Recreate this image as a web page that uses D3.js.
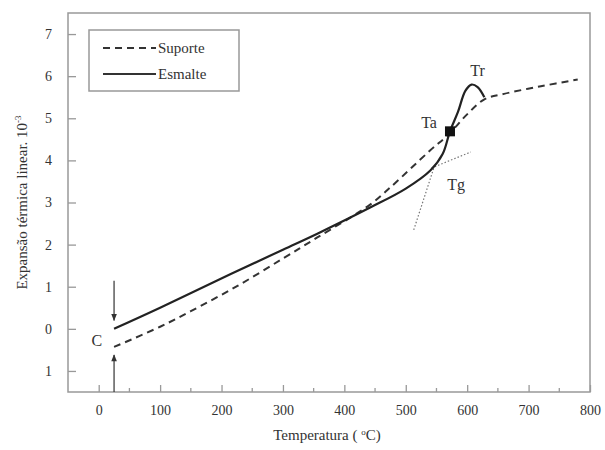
<!DOCTYPE html>
<html lang="pt">
<head>
<meta charset="UTF-8">
<script src="https://d3js.org/d3.v7.min.js"></script>
<style>
  body { margin: 0; background: #fff; }
  svg { font-family: "Liberation Serif", "DejaVu Serif", serif; }
</style>
</head>
<body>
<svg width="605" height="450"></svg>
<script>
// data (temperature in °C, expansion in 10^-3)
var suporte = [[25,-0.43],[100,0.05],[150,0.42],[226,1.02],[300,1.67],[356,2.17],[442,2.95],[475,3.36],
               [540,4.24],[570,4.62],[599,5.08],[628,5.45],[660,5.58],[720,5.76],[780,5.92]];
var esmalte = [[25,0.0],[100,0.5],[215,1.3],[300,1.88],[356,2.26],[442,2.88],[500,3.33],[540,3.76],
               [560,4.15],[572,4.69],[585,5.15],[597,5.65],[607,5.8],[617,5.74],[628,5.5]];
var tangentSteep = [[513,2.35],[547,3.88]];
var tangentFlat = [[542,3.82],[606,4.2]];
var taPoint = [572, 4.69];
var xTicks = [0,100,200,300,400,500,600,700,800];
var xMinor = [50,150,250,350,450,550,650,750];
var yTicks = [-1,0,1,2,3,4,5,6,7];
var yTickLabels = ["1","0","1","2","3","4","5","6","7"];
var labels = [{t:"Tr", x:617, y:6.0}, {t:"Ta", x:538, y:4.78}, {t:"Tg", x:582, y:3.29}, {t:"C", x:-3, y:-0.4}];

var svg = d3.select("svg"),
    padL = 68, padR = 590, padT = 13, padB = 392,
    ink = "#333", frame = "#999";

var x = d3.scaleLinear().domain([-50, 800]).range([padL, padR]);
var y = d3.scaleLinear().domain([-1.5, 7.5]).range([padB, padT]);

// frame
svg.append("rect")
    .attr("x", padL).attr("y", padT)
    .attr("width", padR - padL).attr("height", padB - padT)
    .attr("fill", "none").attr("stroke", frame).attr("stroke-width", 1.5);

// x axis ticks (inward)
var xAxis = d3.axisBottom(x).tickValues(xTicks).tickSizeInner(-7).tickSizeOuter(0).tickPadding(13);
var gx = svg.append("g").attr("transform", "translate(0," + padB + ")").call(xAxis);
gx.select(".domain").remove();
gx.selectAll("line").attr("stroke", frame).attr("stroke-width", 1.3);
gx.selectAll("text").attr("fill", ink).attr("font-size", 14);
svg.append("g").selectAll("line").data(xMinor).enter().append("line")
    .attr("x1", x).attr("x2", x).attr("y1", padB).attr("y2", padB - 4)
    .attr("stroke", frame).attr("stroke-width", 1.3);

// y axis ticks (inward)
var yAxis = d3.axisLeft(y).tickValues(yTicks).tickSizeInner(-8).tickSizeOuter(0).tickPadding(16)
    .tickFormat(function(d, i) { return yTickLabels[i]; });
var gy = svg.append("g").attr("transform", "translate(" + padL + ",0)").call(yAxis);
gy.select(".domain").remove();
gy.selectAll("line").attr("stroke", frame).attr("stroke-width", 1.3);
gy.selectAll("text").attr("fill", ink).attr("font-size", 14);
gx.attr("font-family", null);
gy.attr("font-family", null);

// axis titles
svg.append("text")
    .attr("x", 327).attr("y", 440)
    .attr("text-anchor", "middle").attr("fill", ink).attr("font-size", 15)
    .html('Temperatura ( <tspan dy="-5" font-size="9">o</tspan><tspan dy="5">C)</tspan>');
svg.append("text")
    .attr("transform", "translate(27," + (padT + padB) / 2 + ")rotate(-90)")
    .attr("text-anchor", "middle").attr("fill", ink).attr("font-size", 15)
    .html('Expansão térmica linear. 10<tspan dy="-6" font-size="9">-3</tspan>');

var line = d3.line().x(function(d) { return x(d[0]); }).y(function(d) { return y(d[1]); });
var smooth = d3.line().curve(d3.curveCatmullRom.alpha(0.5))
    .x(function(d) { return x(d[0]); }).y(function(d) { return y(d[1]); });

// tangent lines (dotted)
[tangentSteep, tangentFlat].forEach(function(t) {
    svg.append("path").attr("d", line(t))
        .attr("fill", "none").attr("stroke", "#777").attr("stroke-width", 1.2)
        .attr("stroke-dasharray", "1.5,2");
});

// curves
svg.append("path").attr("d", smooth(suporte))
    .attr("fill", "none").attr("stroke", ink).attr("stroke-width", 2)
    .attr("stroke-dasharray", "7,5");
svg.append("path").attr("d", smooth(esmalte))
    .attr("fill", "none").attr("stroke", "#222").attr("stroke-width", 2.2);

// Ta marker
svg.append("rect")
    .attr("x", x(taPoint[0]) - 5).attr("y", y(taPoint[1]) - 5)
    .attr("width", 10).attr("height", 10).attr("fill", "#111");

// arrows at start point
var defs = svg.append("defs");
defs.append("marker").attr("id", "ah").attr("viewBox", "0 0 10 10")
    .attr("refX", 9).attr("refY", 5).attr("markerWidth", 9).attr("markerHeight", 7)
    .attr("orient", "auto").attr("markerUnits", "userSpaceOnUse")
    .append("path").attr("d", "M0,1 L10,5 L0,9 Z").attr("fill", ink);
svg.append("line")
    .attr("x1", x(25)).attr("x2", x(25)).attr("y1", y(1.14)).attr("y2", y(0.2))
    .attr("stroke", ink).attr("stroke-width", 1.2).attr("marker-end", "url(#ah)");
svg.append("line")
    .attr("x1", x(25)).attr("x2", x(25)).attr("y1", y(-1.5)).attr("y2", y(-0.62))
    .attr("stroke", ink).attr("stroke-width", 1.2).attr("marker-end", "url(#ah)");

// point labels
svg.append("g").selectAll("text").data(labels).enter().append("text")
    .attr("x", function(d) { return x(d.x); })
    .attr("y", function(d) { return y(d.y); })
    .attr("text-anchor", "middle").attr("fill", ink).attr("font-size", 16)
    .text(function(d) { return d.t; });

// legend
var lg = svg.append("g");
lg.append("rect").attr("x", 89).attr("y", 30).attr("width", 150).attr("height", 61)
    .attr("fill", "#fff").attr("stroke", frame).attr("stroke-width", 1.5);
var items = [{t:"Suporte", dash:"7,5"}, {t:"Esmalte", dash:null}];
items.forEach(function(d, i) {
    var yy = 48 + i * 26;
    lg.append("line").attr("x1", 103).attr("x2", 156).attr("y1", yy).attr("y2", yy)
        .attr("stroke", ink).attr("stroke-width", 2)
        .attr("stroke-dasharray", d.dash);
    lg.append("text").attr("x", 158).attr("y", yy + 5)
        .attr("fill", ink).attr("font-size", 15).text(d.t);
});
</script>
</body>
</html>
